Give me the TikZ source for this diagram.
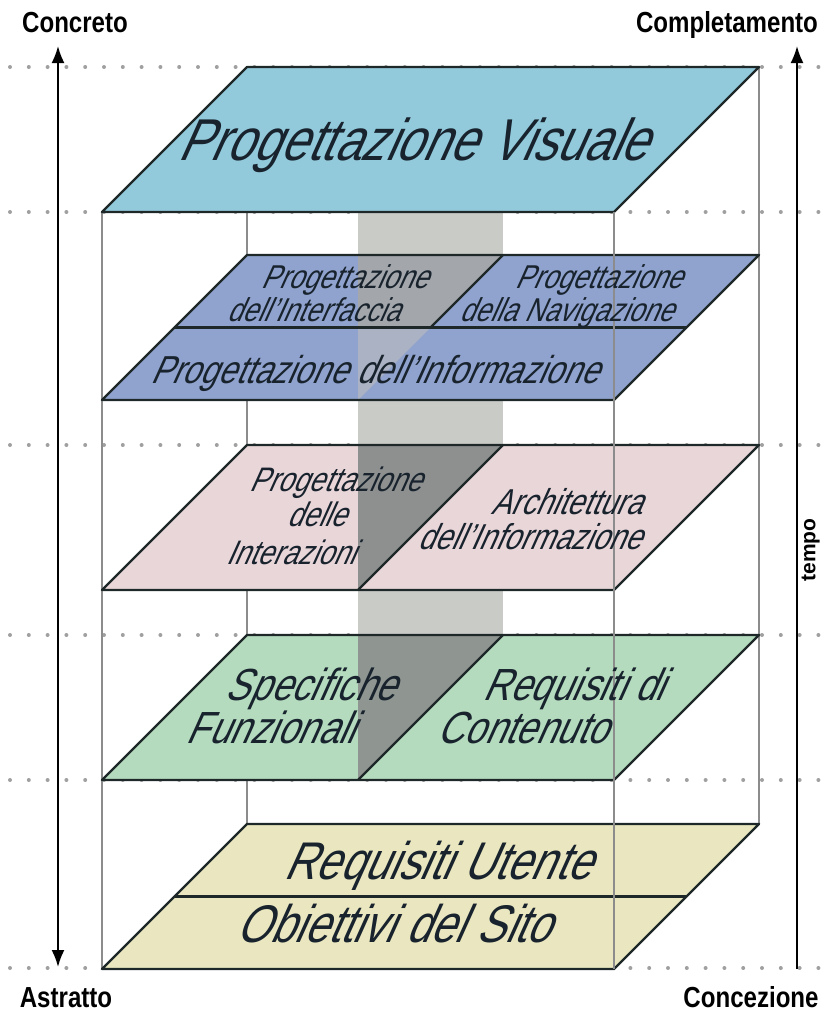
\documentclass[tikz,border=0pt]{standalone}
\usepackage{fontspec}
\setmainfont{Liberation Sans}
\usetikzlibrary{arrows.meta}

\definecolor{visualblue}{HTML}{92CADC}
\definecolor{infoblue}{HTML}{90A3CE}
\definecolor{interpink}{HTML}{E9D6D9}
\definecolor{funcgreen}{HTML}{B4DBBE}
\definecolor{useryellow}{HTML}{EAE7C0}
\definecolor{bandgray}{HTML}{C9CBC7}
\definecolor{shadeblue}{HTML}{A3A6AB}
\definecolor{shadeinfo}{HTML}{AAB2C4}
\definecolor{shadepink}{HTML}{8E9090}
\definecolor{shadegreen}{HTML}{8F9591}
\definecolor{edgecol}{HTML}{1E2828}
\definecolor{guidegray}{HTML}{8C8C8C}
\definecolor{dotgray}{HTML}{A0A0A0}
\definecolor{labelcol}{HTML}{18232D}

\begin{document}
\begin{tikzpicture}[x=1pt, y=-1pt, >={Latex[length=17pt,width=13pt]},
  edge/.style={draw=edgecol, line width=2.4pt, line join=round},
  guide/.style={draw=guidegray, line width=1.5pt},
  dots/.style={draw=dotgray, line width=4pt, line cap=round, dash pattern=on 0pt off 18.8pt},
  lbl/.style={text=labelcol, xslant=0.45, xscale=0.82, anchor=base, inner sep=0pt},
  axis/.style={font=\bfseries\fontsize{29}{29}\selectfont, xscale=0.83, anchor=base, inner sep=0pt}]
  \useasboundingbox (0,0) rectangle (820,1012);

  % dotted level marks
  \draw [dots] (10,67) -- (820,67);
  \draw [dots] (10,212) -- (820,212);
  \draw [dots] (10,445) -- (820,445);
  \draw [dots] (10,635) -- (820,635);
  \draw [dots] (10,780) -- (820,780);
  \draw [dots] (10,968) -- (820,968);

  % box edges behind the layers
  \draw [guide] (247,212) -- (247,824);
  \draw [guide] (759,67) -- (759,824);
  \draw [guide] (102,212) -- (102,969);
  \fill [bandgray] (358,212) rectangle (503,780);

  % layers
  \fill [visualblue] (247,67) -- (759,67) -- (614,212) -- (102,212) -- cycle;
  \fill [infoblue] (247,255) -- (759,255) -- (614,400) -- (102,400) -- cycle;
  \fill [interpink] (247,445) -- (759,445) -- (614,590) -- (102,590) -- cycle;
  \fill [funcgreen] (247,635) -- (759,635) -- (614,780) -- (102,780) -- cycle;
  \fill [useryellow] (247,824) -- (759,824) -- (614,969) -- (102,969) -- cycle;

  \fill [shadeblue] (358,255) -- (503,255) -- (430.5,327.5) -- (358,327.5) -- cycle;
  \fill [shadeinfo] (358,327.5) -- (430.5,327.5) -- (358,400) -- cycle;
  \fill [shadepink] (358,445) -- (503,445) -- (358,590) -- cycle;
  \fill [shadegreen] (358,635) -- (503,635) -- (358,780) -- cycle;

  \draw [edge] (247,67) -- (759,67) -- (614,212) -- (102,212) -- cycle;
  \draw [edge] (247,255) -- (759,255) -- (614,400) -- (102,400) -- cycle;
  \draw [edge] (247,445) -- (759,445) -- (614,590) -- (102,590) -- cycle;
  \draw [edge] (247,635) -- (759,635) -- (614,780) -- (102,780) -- cycle;
  \draw [edge] (247,824) -- (759,824) -- (614,969) -- (102,969) -- cycle;
  \draw [edge] (174.5,327.5) -- (686.5,327.5);
  \draw [edge] (503,255) -- (430.5,327.5);
  \draw [edge] (503,445) -- (358,590);
  \draw [edge] (503,635) -- (358,780);
  \draw [edge] (174.5,896.5) -- (686.5,896.5);

  \draw [guide] (614,212) -- (614,969);

  % layer names
  \node [lbl, font=\fontsize{59}{59}\selectfont] (visuale) at (412,160) {Progettazione Visuale};
  \node [lbl, font=\fontsize{33}{33}\selectfont] (interfacciaA) at (344,288) {Progettazione};
  \node [lbl, font=\fontsize{33}{33}\selectfont] (interfacciaB) at (313,321) {dell'Interfaccia};
  \node [lbl, font=\fontsize{33}{33}\selectfont] (navigazioneA) at (598,288) {Progettazione};
  \node [lbl, font=\fontsize{33}{33}\selectfont] (navigazioneB) at (566,321) {della Navigazione};
  \node [lbl, font=\fontsize{39}{39}\selectfont] (informazione) at (374,383) {Progettazione dell'Informazione};
  \node [lbl, font=\fontsize{34}{34}\selectfont] (interazioniA) at (335,491) {Progettazione};
  \node [lbl, font=\fontsize{34}{34}\selectfont] (interazioniB) at (316,526) {delle};
  \node [lbl, font=\fontsize{34}{34}\selectfont] (interazioniC) at (290,564) {Interazioni};
  \node [lbl, font=\fontsize{36}{36}\selectfont] (architetturaA) at (566,514) {Architettura};
  \node [lbl, font=\fontsize{36}{36}\selectfont] (architetturaB) at (529,549) {dell'Informazione};
  \node [lbl, font=\fontsize{45}{45}\selectfont] (specificheA) at (310,700) {Specifiche};
  \node [lbl, font=\fontsize{45}{45}\selectfont] (specificheB) at (270,743) {Funzionali};
  \node [lbl, font=\fontsize{45}{45}\selectfont] (contenutoA) at (573,700) {Requisiti di};
  \node [lbl, font=\fontsize{45}{45}\selectfont] (contenutoB) at (522,743) {Contenuto};
  \node [lbl, font=\fontsize{53}{53}\selectfont] (utente) at (437,879) {Requisiti Utente};
  \node [lbl, font=\fontsize{53}{53}\selectfont] (obiettivi) at (393,942) {Obiettivi del Sito};

  % axes
  \node [axis] (concreto) at (75,32) {Concreto};
  \node [axis] (astratto) at (66,1007) {Astratto};
  \node [axis] (completamento) at (727,32) {Completamento};
  \node [axis] (concezione) at (751,1007) {Concezione};
  \node [font=\bfseries\fontsize{21}{21}\selectfont, rotate=90, anchor=south, inner sep=0pt] (tempo) at (820,550) {tempo};
  \coordinate (concretoTip) at (58,46);
  \coordinate (astrattoTip) at (58,967);
  \coordinate (completamentoTip) at (797,46);
  \coordinate (concezioneEnd) at (797,969);
  \draw [<->, line width=2pt] (astrattoTip) -- (concretoTip);
  \draw [->, line width=2pt] (concezioneEnd) -- (completamentoTip);
\end{tikzpicture}
\end{document}
